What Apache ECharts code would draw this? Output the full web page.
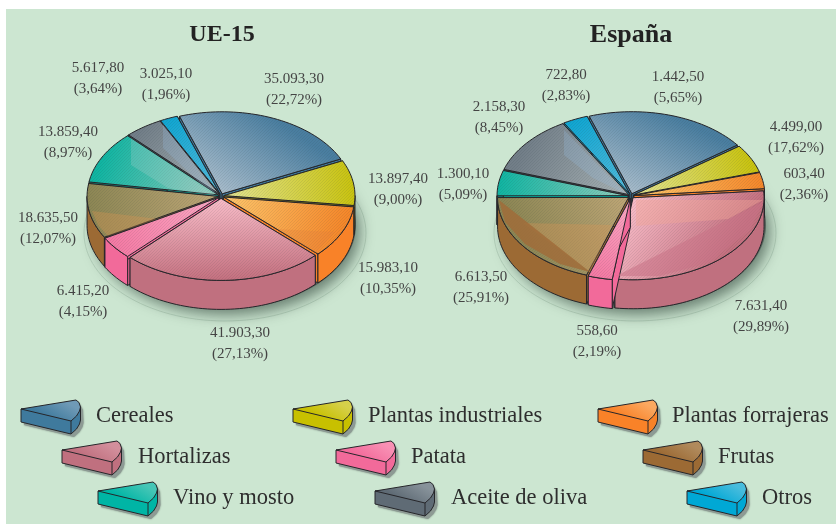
<!DOCTYPE html>
<html><head><meta charset="utf-8">
<style>html,body{margin:0;padding:0;background:#fff}#c{width:836px;height:524px}</style>
<script src="https://cdn.jsdelivr.net/npm/echarts@6/dist/echarts.min.js"></script>
</head><body><div id="c"></div>
<script>
// ---- data ----
const categories = ['Cereales','Plantas industriales','Plantas forrajeras','Hortalizas','Patata','Frutas','Vino y mosto','Aceite de oliva','Otros'];
// printed labels
const ue15Values = [35093.30,13897.40,15983.10,41903.30,6415.20,18635.50,13859.40,5617.80,3025.10];
const ue15Percent = [22.72,9.00,10.35,27.13,4.15,12.07,8.97,3.64,1.96];
const espanaValues = [4499.00,1442.50,603.40,7631.40,558.60,6613.50,1300.10,2158.30,722.80];
const espanaPercent = [17.62,5.65,2.36,29.89,2.19,25.91,5.09,8.45,2.83];
// share of the circle each slice visibly takes in the drawing (%):
// the original artwork does not draw its slices strictly in proportion to its printed figures.
const ue15DrawnShare = [23.3,8.9,10.3,25.0,4.5,10.8,10.3,4.7,2.2];
const espanaDrawnShare = [20.2,5.6,3.2,28.6,3.0,19.8,5.0,11.7,3.1];

// ---- styling and layout ----
const wallColors = ['#3f7a9d','#c8c000','#f98228','#c0707f','#f26a9a','#9c6a34','#00b5a5','#5f6b75','#00a8d5'];
const rimColors  = ['#4a7ea0','#c9c30f','#f5872a','#c4707f','#f47aa4','#8c8654','#10b5a2','#727e88','#10a6d2'];
const hubColors  = ['#a8bccb','#e2e392','#fdc66c','#f8bcc8','#fca9c4','#bea676','#90cbbb','#a8b2b4','#54bada'];
const iconLights = ['#6f9ab6','#d6d04a','#fba860','#d38f9c','#f890b4','#b08a5c','#46c6b6','#87929a','#48bcdd'];
const ue15LabelAt = [[294,79],[398,179],[388,268],[240,333],[83,291],[48,218],[68,132],[98,68],[166,74]];
const espanaLabelAt = [[796,127],[678,77],[804,174],[761,306],[597,331],[481,277],[463,174],[499,107],[566,75]];
const legendAt = [[21,400],[293,400],[598,400],[62,441],[336,441],[643,441],[98,482],[375,482],[687,482]];
const legendTextX = [96,368,672,138,411,718,173,451,762];
const serif = '"Liberation Serif","Times New Roman",serif';
// translucent sheen facets lying on the slice tops (decoration only)
const ue15Sheen = [
  {fill:'rgba(195,215,215,0.22)',pts:[[131,138],[131,165],[168,188],[216,196]]},
  {fill:'rgba(150,190,225,0.26)',pts:[[163,124],[163,148],[200,183],[216,194]]},
  {fill:'rgba(222,150,80,0.32)',pts:[[92,211],[158,219],[215,199],[108,236],[98,225]]},
  {fill:'rgba(225,125,60,0.30)',pts:[[277,229],[335,232],[316,253]]}
];
const espanaSheen = [
  {fill:'rgba(150,190,225,0.26)',pts:[[564,130],[564,155],[593,178],[626,194]]},
  {fill:'rgba(215,150,85,0.35)',pts:[[523,223],[612,225],[590,272]]},
  {fill:'rgba(160,108,58,0.85)',pts:[[499,200],[590,272],[560,264],[525,244],[505,222]]},
  {fill:'rgba(240,165,150,0.45)',pts:[[636,200],[636,226],[728,219],[763,200]]},
  {fill:'rgba(200,115,135,0.55)',pts:[[763,202],[616,276],[660,276],[710,262],[750,230]]}
];

// fine diagonal hatch, as in the printed tints
const hatch = document.createElement('canvas'); hatch.width = hatch.height = 3;
(function(){
  const g = hatch.getContext('2d'); g.fillStyle='rgba(30,50,50,0.09)';
  g.fillRect(2,0,1,1); g.fillRect(1,1,1,1); g.fillRect(0,2,1,1);
})();

const fmt = v => {
  const [i,d] = v.toFixed(2).split('.');
  return i.replace(/\B(?=(\d{3})+$)/g,'.') + ',' + d;
};
const pct = p => '(' + p.toFixed(2).replace('.',',') + '%)';

function pieSeries(cfg){
  const total = cfg.shares.reduce((a,b)=>a+b,0);
  let acc = cfg.start;
  const slices = cfg.shares.map((v,i)=>{
    const s = acc, sweep = v/total*360; acc += sweep;
    return {i, start:s, end:s+sweep, mid:s+sweep/2};
  });
  const pt = (t,ox,oy,dz) => {
    const r = t*Math.PI/180;
    return [cfg.cx+ox+cfg.rx*Math.sin(r), cfg.cy+oy-cfg.ry*Math.cos(r)+(dz||0)];
  };
  const order = slices.slice().sort((a,b)=>(-Math.cos(a.mid*Math.PI/180))-(-Math.cos(b.mid*Math.PI/180)));
  return {
    type:'custom', coordinateSystem:'none', silent:true, name:cfg.name,
    data: order.map(s=>({name:categories[s.i], value:[cfg.shares[s.i], s.i]})),
    renderItem(params, api){
      const i = api.value(1), s = slices[i];
      const mr = s.mid*Math.PI/180;
      const ox = cfg.explode*Math.sin(mr), oy = -cfg.explode*Math.cos(mr)*0.8;
      const apex = [cfg.cx+ox, cfg.cy+oy];
      const arc = (a,b,dz)=>{
        const out=[], n=Math.max(2,Math.ceil((b-a)/2));
        for(let k=0;k<=n;k++) out.push(pt(a+(b-a)*k/n,ox,oy,dz));
        return out;
      };
      const line = {stroke:'#26262a', lineWidth:1, lineJoin:'round'};
      const kids = [];
      const radial = t=>{
        const e = pt(t,ox,oy,0);
        kids.push({type:'polygon', shape:{points:[apex,e,[e[0],e[1]+cfg.depth],[apex[0],apex[1]+cfg.depth]]},
          style:Object.assign({fill:wallColors[i]},line)});
      };
      radial(s.start); radial(s.end);
      const a = Math.max(s.start,90), b = Math.min(s.end,270);
      if(b>a){
        const top = arc(a,b,0), low = arc(a,b,cfg.depth).reverse();
        kids.push({type:'polygon', shape:{points:top.concat(low)}, style:Object.assign({fill:wallColors[i]},line)});
      }
      const rim = pt(s.mid,ox,oy,0);
      const face = [apex].concat(arc(s.start,s.end,0));
      kids.push({type:'polygon', shape:{points:face},
        style:{fill:new echarts.graphic.LinearGradient(apex[0],apex[1],rim[0],rim[1],
          [{offset:0,color:hubColors[i]},{offset:1,color:rimColors[i]}],true)}});
      kids.push({type:'polygon', shape:{points:face}, style:{fill:{image:hatch,repeat:'repeat'}}});
      kids.push({type:'polygon', shape:{points:face}, style:Object.assign({fill:'none'},line)});
      return {type:'group', children:kids};
    }
  };
}

function sheenSeries(list){
  return {type:'custom', coordinateSystem:'none', silent:true, z:3,
    data:list.map((f,i)=>[i]),
    renderItem(p,api){
      const f=list[api.value(0)];
      return {type:'polygon',shape:{points:f.pts},style:{fill:f.fill}};
    }};
}

function shadowSeries(cfg){
  return {type:'custom', coordinateSystem:'none', silent:true, data:[[1]],
    renderItem(){
      const cy=cfg.cy+cfg.depth;
      return {type:'group',children:[
        {type:'ellipse', shape:{cx:cfg.cx+4,cy:cfg.cy+37,rx:cfg.rx+10,ry:cfg.ry+6},
         style:{fill:'none',stroke:'#a9c6b0',lineWidth:0.7}},
        {type:'ellipse', shape:{cx:cfg.cx+2,cy:cy,rx:cfg.rx+2,ry:cfg.ry+2},
         style:{fill:'#55655c',shadowBlur:14,shadowColor:'rgba(40,60,50,0.6)',shadowOffsetX:4,shadowOffsetY:6}}
      ]};
    }};
}

function labelSeries(values,percents,positions){
  return {type:'custom', coordinateSystem:'none', silent:true, z:5,
    data: values.map((v,i)=>[v,percents[i],i]),
    renderItem(params,api){
      const i=api.value(2), p=positions[i];
      const t=(str,y)=>({type:'text',style:{text:str,x:p[0],y:y,fill:'#444444',font:'15px '+serif,align:'center',verticalAlign:'middle'}});
      return {type:'group',children:[t(fmt(api.value(0)),p[1]),t(pct(api.value(1)),p[1]+21)]};
    }};
}

const legendSeries = {type:'custom', coordinateSystem:'none', silent:true, z:5,
  data: categories.map((c,i)=>({name:c,value:[i]})),
  renderItem(params,api){
    const i=api.value(0), [x,y]=legendAt[i];
    const P=(a,b)=>[x+a,y+b];
    const rim=[P(55,0),P(58,2.5),P(59.5,7),P(58.5,11),P(55.5,16),P(50,21)];
    const rimLow=rim.slice(2).map(p=>[p[0],p[1]+13]);
    const line={stroke:'#26262a',lineWidth:1,lineJoin:'round'};
    const body=[P(0,9),P(0,22),P(50,34)].concat(rimLow.slice().reverse()).concat([P(59.5,7)]);
    const shadow=[P(3,12),P(3,25),P(53,37)].concat(rimLow.slice().reverse().map(p=>[p[0]+3,p[1]+3])).concat([P(62,10),P(58,3),P(3,12)]);
    return {type:'group',children:[
      {type:'polygon',shape:{points:shadow},style:{fill:'#8d9a94',shadowBlur:2,shadowColor:'rgba(60,70,65,.6)'}},
      {type:'polygon',shape:{points:body},style:Object.assign({fill:wallColors[i]},line)},
      {type:'polyline',shape:{points:[P(50,21),P(50,34)]},style:line},
      {type:'polygon',shape:{points:[P(0,9),P(55,0)].concat(rim.slice(1))},
        style:Object.assign({fill:new echarts.graphic.LinearGradient(x+30,y+20,x+42,y,
          [{offset:0,color:wallColors[i]},{offset:1,color:iconLights[i]}],true)},line)},
      {type:'text',style:{text:categories[i],x:legendTextX[i],y:y+16,fill:'#2e2e2e',font:'22.5px '+serif,align:'left',verticalAlign:'middle'}}
    ]};
  }};

const ue15 = {name:'UE-15',shares:ue15DrawnShare,start:-19,cx:221,cy:196,rx:131,ry:82,depth:29,explode:3};
const espana = {name:'España',shares:espanaDrawnShare,start:-19,cx:631,cy:196,rx:131,ry:82,depth:29,explode:3};

const chart = echarts.init(document.getElementById('c'),null,{renderer:'canvas'});
chart.setOption({
  animation:false, backgroundColor:'#ffffff',
  graphic:[{type:'rect',z:-10,shape:{x:6,y:9,width:830,height:515},style:{fill:'#cce6d1'}}],
  title:[
    {text:'UE-15',left:217,top:18,textAlign:'center',textStyle:{fontFamily:serif,fontWeight:'bold',fontSize:24,color:'#222'}},
    {text:'España',left:626,top:17,textAlign:'center',textStyle:{fontFamily:serif,fontWeight:'bold',fontSize:26,color:'#222'}}
  ],
  series:[shadowSeries(ue15),shadowSeries(espana),pieSeries(ue15),pieSeries(espana),sheenSeries(ue15Sheen),sheenSeries(espanaSheen),
    labelSeries(ue15Values,ue15Percent,ue15LabelAt),labelSeries(espanaValues,espanaPercent,espanaLabelAt),legendSeries]
});
</script></body></html>
